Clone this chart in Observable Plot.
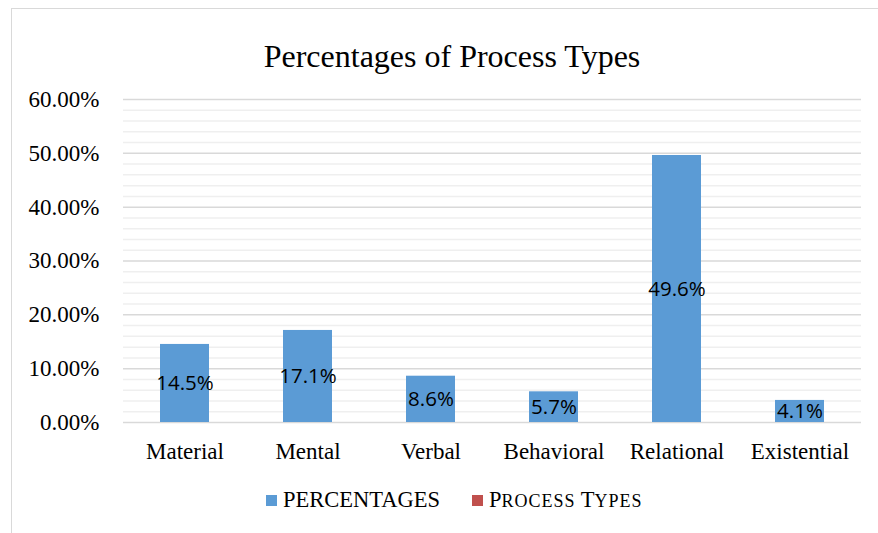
<!DOCTYPE html>
<html>
<head>
<meta charset="utf-8">
<script src="https://cdn.jsdelivr.net/npm/d3@7"></script>
<script src="https://cdn.jsdelivr.net/npm/@observablehq/plot@0.6"></script>
<style>
  html, body { margin: 0; padding: 0; background: #fff; }
  #wrap { position: relative; width: 878px; height: 533px; overflow: hidden; font-family: "Liberation Serif", serif; }
  #border { position: absolute; left: 11px; top: 8px; width: 880px; height: 600px; border: 1px solid #d9d9d9; box-sizing: border-box; }
  #title { position: absolute; left: 0; width: 904px; top: 40px; text-align: center; font-size: 32px; color: #000; line-height: 1; }
  #legend { position: absolute; top: 489px; left: 266px; display: flex; align-items: center; font-size: 22.5px; color: #000; line-height: 1; }
  .item { display: flex; align-items: center; margin-right: 32px; }
  .sw { width: 11px; height: 11px; margin-right: 6px; }
  .sc { font-size: 18px; letter-spacing: 1px; }
  #chart { position: absolute; left: 0; top: 0; }
</style>
</head>
<body>
<div id="wrap">
  <div id="border"></div>
  <div id="chart"></div>
  <div id="title"></div>
  <div id="legend"></div>
</div>
<script>
const titleText = "Percentages of Process Types";
const categories = ["Material", "Mental", "Verbal", "Behavioral", "Relational", "Existential"];
const percentages = [14.5, 17.1, 8.6, 5.7, 49.6, 4.1];
const yTicks = [0, 10, 20, 30, 40, 50, 60];
const minorTicks = d3.range(0, 61, 2).filter(v => v % 10 !== 0);
const seriesNames = ["PERCENTAGES", "Process Types"];
const seriesColors = ["#5B9BD5", "#C0504D"];

const data = categories.map((c, i) => ({category: c, value: percentages[i]}));

document.getElementById("title").textContent = titleText;

const serif = "'Liberation Serif', serif";

function smallCaps(el, str) {
  for (const ch of str) {
    if (ch !== ch.toUpperCase()) {
      const s = document.createElement("span");
      s.className = "sc";
      s.textContent = ch.toUpperCase();
      el.appendChild(s);
    } else {
      el.appendChild(document.createTextNode(ch));
    }
  }
}

const legend = document.getElementById("legend");
seriesNames.forEach((name, i) => {
  const it = document.createElement("div");
  it.className = "item";
  const sw = document.createElement("div");
  sw.className = "sw";
  sw.style.background = seriesColors[i];
  const tx = document.createElement("span");
  if (i === 1) smallCaps(tx, name); else tx.textContent = name;
  it.appendChild(sw);
  it.appendChild(tx);
  legend.appendChild(it);
});

const chart = Plot.plot({
  width: 878,
  height: 533,
  marginLeft: 123,
  marginRight: 17,
  marginTop: 99,
  marginBottom: 111,
  style: {fontFamily: serif, fontSize: "23px", color: "#000", background: "transparent", overflow: "visible"},
  x: {domain: categories, paddingInner: 0.6, paddingOuter: 0.3, label: null},
  y: {domain: [0, 60], label: null},
  marks: [
    Plot.ruleY(minorTicks, {stroke: "#efefef", strokeWidth: 1.5}),
    Plot.ruleY(yTicks, {stroke: "#d9d9d9", strokeWidth: 1.5}),
    Plot.barY(data, {x: "category", y: "value", fill: seriesColors[0]}),
    Plot.text(data, {x: "category", y: d => d.value / 2, text: d => d.value.toFixed(1) + "%", fontFamily: "'Open Sans', 'Liberation Sans', sans-serif", fontSize: 20.5, fill: "#000"}),
    Plot.axisY({ticks: yTicks, tickSize: 0, tickPadding: 24, tickFormat: d => d.toFixed(2) + "%", fontSize: 23, fontFamily: serif, fill: "#000"}),
    Plot.axisX({tickSize: 0, tickPadding: 20, fontSize: 23, fontFamily: serif, fill: "#000"})
  ]
});
document.getElementById("chart").appendChild(chart);
</script>
</body>
</html>
